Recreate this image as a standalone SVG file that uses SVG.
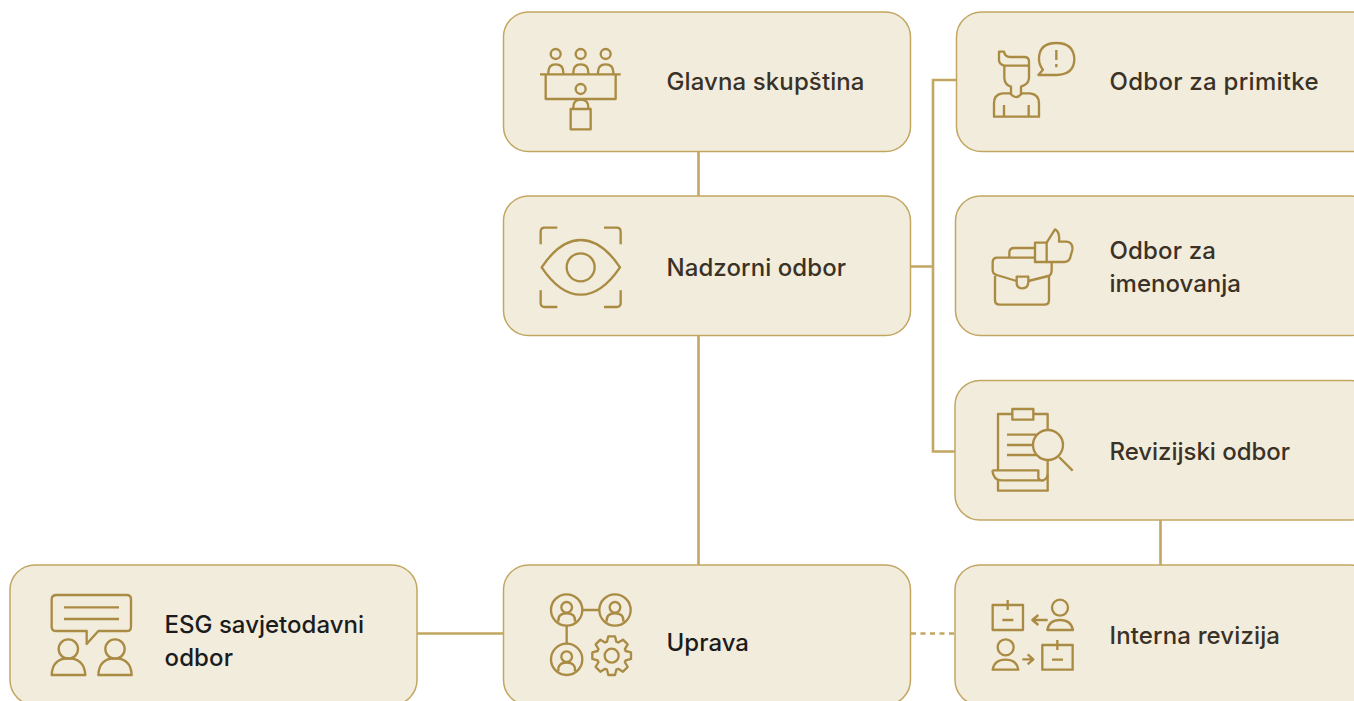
<svg xmlns="http://www.w3.org/2000/svg" width="1354" height="701" viewBox="0 0 1354 701">
<style>
.box{fill:#f2ecdd;stroke:#c2a661;stroke-width:1.5}
.c{fill:none;stroke:#c2a661;stroke-width:2.6}
.i{fill:none;stroke:#aa8b43;stroke-width:7;stroke-linejoin:round}
.t{font-family:"Inter","Liberation Sans",sans-serif;font-size:24px;font-weight:500;fill:#3a3226}
.d{fill:#1c1c1c}
</style>
<rect width="1354" height="701" fill="#fff"/>
<g id="connectors">
<path class="c" d="M698.5 151V196M698.5 335V565M910 266.5H933M957 80H933V451.500H956M1160.500 520V565M417 633.500H503"/>
<path class="c" d="M911 633.500H955" stroke-dasharray="5 4.5"/>
</g>
<g id="glavna-skupstina">
<rect class="box" x="503.500" y="12" width="407" height="139.500" rx="25"/>
<g class="i" transform="translate(530 35) scale(.3333)">
<circle cx="77" cy="57" r="15"/><circle cx="152" cy="57" r="15"/><circle cx="227" cy="57" r="15"/>
<path d="M55 118V112Q55 88 77 88Q100 88 100 112V118M130 118V112Q130 88 152 88Q175 88 175 112V118M204 118V112Q204 88 227 88Q250 88 250 112V118M30 118H272M47 118V192H257V118"/>
<circle cx="152" cy="162" r="15"/>
<path d="M130 222V216Q130 194 152 194Q175 194 175 216V222"/><rect x="122" y="222" width="60" height="61"/>
</g>
<text class="t" x="666.500" y="89.500" textLength="198">Glavna skupština</text>
</g>
<g id="nadzorni-odbor">
<rect class="box" x="503.500" y="196" width="407" height="139.500" rx="25"/>
<g class="i" transform="translate(500 0) scale(.3333)">
<path d="M122 733V695Q122 683 134 683H172M312 683H350Q362 683 362 695V733M122 871V909Q122 921 134 921H172M312 921H350Q362 921 362 909V871"/>
<path d="M125 802Q180 720 242 720Q305 720 360 802Q305 884 242 884Q180 884 125 802Z"/>
<circle cx="242" cy="802" r="42"/>
</g>
<text class="t" x="666.500" y="275.500" textLength="179.500">Nadzorni odbor</text>
</g>
<g id="odbor-za-primitke">
<rect class="box" x="956.500" y="12" width="420" height="139.500" rx="25"/>
<g class="i" transform="translate(985 35) scale(.3333)">
<path d="M42 50H57Q60 65 75 66H118Q132 66 132 80V92H58Q42 88 42 75Z"/>
<path d="M58 92V130Q60 150 78 155V178Q92 195 108 178V155Q130 148 132 130V92"/>
<path d="M78 175H52Q27 178 27 205V245H162V205Q162 178 135 175H108M57 210V245M131 210V245"/>
<path d="M160 120H214Q268 118 268 72Q266 24 214 24Q162 24 162 72Q162 90 174 104Z"/>
<path d="M214 45V75M214 87V97"/>
</g>
<text class="t" x="1109.500" y="89.500" textLength="209">Odbor za primitke</text>
</g>
<g id="odbor-za-imenovanja">
<rect class="box" x="955.500" y="196" width="420" height="139.500" rx="25"/>
<g class="i" transform="translate(985 220) scale(.3333)">
<path d="M73 113V98Q73 84 88 84H150"/>
<path d="M150 113H37Q23 113 23 127V150Q23 162 35 165L95 183M130 183L190 168Q200 165 200 150V126"/>
<path d="M30 168V240Q30 254 45 254H178Q192 254 192 240V168"/>
<path d="M95 170H130V188Q128 205 112 205Q95 205 95 188Z"/>
<rect x="150" y="68" width="35" height="58"/>
<path d="M185 68L210 28Q225 35 222 65H245Q265 68 262 90L255 115Q250 126 238 126H185"/>
</g>
<text class="t" x="1109.500" y="258.500" textLength="106.500">Odbor za</text>
<text class="t" x="1109.500" y="291.500" textLength="131.500">imenovanja</text>
</g>
<g id="revizijski-odbor">
<rect class="box" x="955" y="380.500" width="420" height="139.500" rx="25"/>
<g class="i" transform="translate(985 403) scale(.3333)">
<path d="M82 33H39V202M145 33H188V80M188 172V263H39V232"/>
<rect x="82" y="18" width="63" height="32"/>
<path d="M66 95H155M66 126H143M66 156H155"/>
<circle cx="189" cy="126" r="45"/>
<path d="M222 162L263 203"/>
<path d="M22 202H160V225Q165 235 175 232Q186 228 188 215M22 202Q25 232 50 232H175"/>
</g>
<text class="t" x="1109.500" y="459.500" textLength="180.500">Revizijski odbor</text>
</g>
<g id="interna-revizija">
<rect class="box" x="955" y="565" width="420" height="140" rx="25"/>
<g class="i" transform="translate(985 595) scale(.3333)">
<rect x="23" y="30" width="91" height="75"/><path d="M68 15V45M52 75H85"/>
<path d="M188 75H142M160 60L142 75L160 90"/>
<circle cx="225" cy="38" r="24"/><path d="M187 105Q192 75 225 75Q258 75 264 105Z"/>
<circle cx="62" cy="157" r="24"/><path d="M23 224Q28 194 62 194Q95 194 100 224Z"/>
<path d="M112 193H145M128 178L145 193L128 208"/>
<rect x="172" y="150" width="91" height="74"/><path d="M217 135V165M201 194H234"/>
</g>
<text class="t" x="1109.500" y="644" textLength="170.500">Interna revizija</text>
</g>
<g id="uprava">
<rect class="box" x="503.500" y="565" width="407" height="140" rx="25"/>
<g class="i" transform="translate(545 590) scale(.3333)">
<circle cx="65" cy="60" r="47"/><circle cx="210" cy="60" r="47"/><circle cx="65" cy="208" r="47"/>
<path d="M112 60H163M65 107V161"/>
<circle cx="65" cy="52" r="16"/><path d="M40 95Q38 70 65 70Q92 70 90 95"/>
<circle cx="210" cy="52" r="16"/><path d="M185 95Q183 70 210 70Q237 70 235 95"/>
<circle cx="65" cy="200" r="16"/><path d="M40 243Q38 218 65 218Q92 218 90 243"/>
<circle cx="200" cy="197" r="21"/>
<path transform="translate(200 197)" d="M42 -14L58 -10V10L42 14L39.600 19.800L48.100 33.900L33.900 48.100L19.800 39.600L14 42L10 58H-10L-14 42L-19.800 39.600L-33.900 48.100L-48.100 33.900L-39.600 19.800L-42 14L-58 10V-10L-42 -14L-39.600 -19.800L-48.100 -33.900L-33.900 -48.100L-19.800 -39.600L-14 -42L-10 -58H10L14 -42L19.800 -39.600L33.900 -48.100L48.100 -33.900L39.600 -19.800Z"/>
</g>
<text class="t d" x="666.500" y="650.500" textLength="82.500">Uprava</text>
</g>
<g id="esg-savjetodavni-odbor">
<rect class="box" x="10" y="565" width="407" height="140" rx="25"/>
<g class="i" transform="translate(45 590) scale(.3333)">
<path d="M35 15H245Q258 15 258 28V110Q258 123 245 123H160L125 162V123H35Q20 123 20 110V28Q20 15 35 15Z"/>
<path d="M57 52H222M57 87H222"/>
<circle cx="70" cy="177" r="29"/><path d="M20 255Q22 205 70 205Q118 205 121 255Z"/>
<circle cx="210" cy="177" r="29"/><path d="M160 255Q162 205 210 205Q258 205 260 255Z"/>
</g>
<text class="t d" x="164.500" y="632.500" textLength="199.500">ESG savjetodavni</text>
<text class="t d" x="164.500" y="666" textLength="68.500">odbor</text>
</g>
</svg>
